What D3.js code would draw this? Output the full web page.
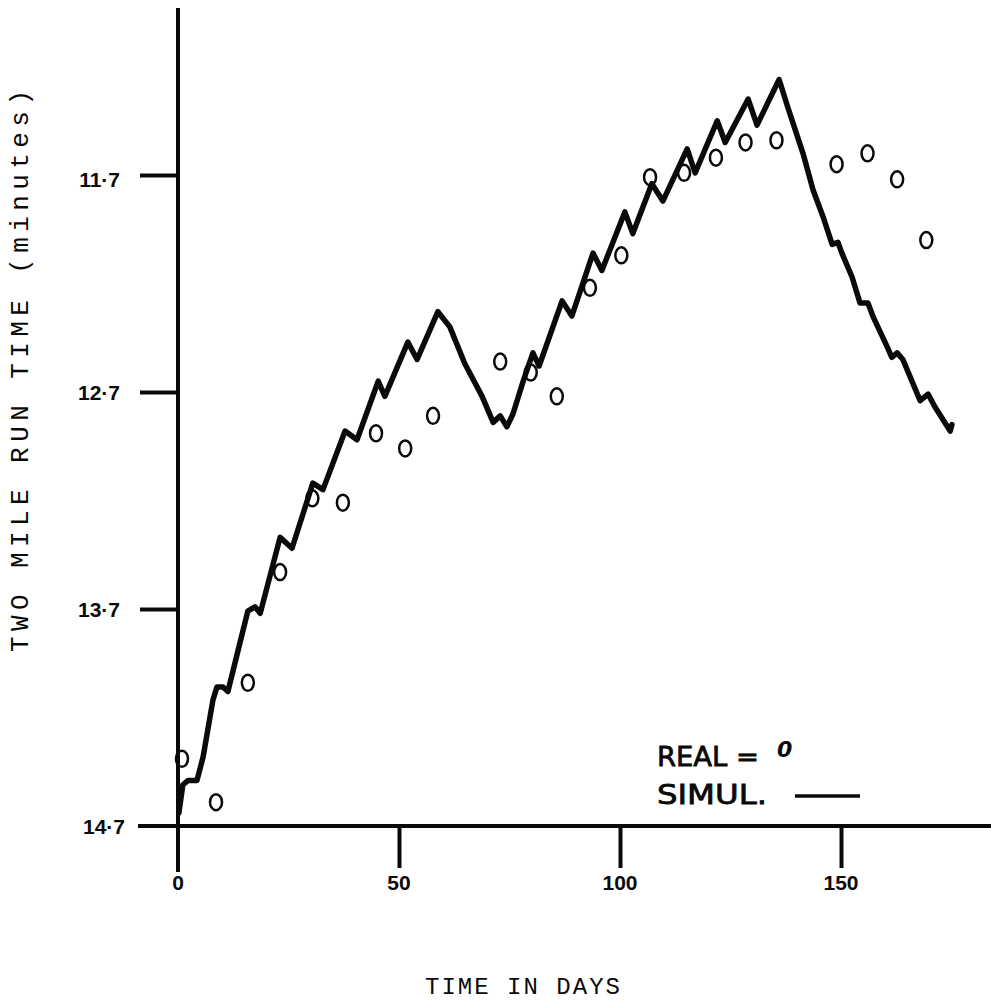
<!DOCTYPE html>
<html>
<head>
<meta charset="utf-8">
<script src="https://cdn.jsdelivr.net/npm/d3@7"></script>
<style>
  html, body { margin: 0; padding: 0; background: #fff; }
  svg { display: block; }
</style>
</head>
<body>
<svg id="chart" width="991" height="1006"></svg>
<script>
// ---- data ----
const realDays  = [0.9, 8.6, 15.8, 23.1, 30.4, 37.3, 44.8, 51.4, 57.7, 72.9, 79.8, 85.7, 93.2, 100.3, 106.8, 114.5, 121.7, 128.4, 135.4, 149.0, 156.0, 162.7, 169.3];
const realTimes = [14.39, 14.59, 14.04, 13.53, 13.19, 13.21, 12.89, 12.96, 12.81, 12.56, 12.61, 12.72, 12.22, 12.07, 11.71, 11.69, 11.62, 11.55, 11.54, 11.65, 11.60, 11.72, 12.00];

const simDays  = [0.2, 1.1, 2.3, 4.3, 5.7, 7.9, 8.8, 10.2, 11.3, 13.6, 15.8, 17.4, 18.6, 23.1, 25.8, 30.5, 32.8, 37.8, 40.5, 45.3, 46.8, 52.0, 54.1, 58.8,
                  61.5, 64.9, 68.8, 71.3, 72.9, 74.4,
                  75.8, 78.1, 80.3, 81.7, 86.9, 89.1, 93.9, 95.9, 101.1, 102.9, 107.2, 109.7, 115.2, 117.0, 122.0, 123.8, 129.0, 131.0, 136.0,
                  138.0, 141.4, 143.7, 145.9, 148.0, 149.3, 150.2, 152.5, 154.3, 156.1, 157.2, 160.4, 161.5, 162.7, 164.0, 167.9, 169.7, 171.3, 174.7, 175.1];
const simTimes = [14.64, 14.51, 14.49, 14.49, 14.38, 14.12, 14.06, 14.06, 14.08, 13.89, 13.71, 13.69, 13.72, 13.37, 13.42, 13.12, 13.15, 12.88, 12.92, 12.65, 12.72, 12.47, 12.55, 12.33,
                  12.40, 12.57, 12.72, 12.84, 12.81, 12.86,
                  12.80, 12.65, 12.52, 12.58, 12.28, 12.35, 12.06, 12.14, 11.87, 11.97, 11.74, 11.82, 11.58, 11.69, 11.45, 11.55, 11.35, 11.47, 11.26,
                  11.39, 11.60, 11.77, 11.89, 12.02, 12.01, 12.06, 12.17, 12.29, 12.29, 12.35, 12.49, 12.54, 12.52, 12.55, 12.74, 12.71, 12.77, 12.88, 12.85];

const xTicks = [0, 50, 100, 150];
const xTickLabels = ["0", "50", "100", "150"];
const yTicks = [11.7, 12.7, 13.7, 14.7];
const yTickLabels = ["11·7", "12·7", "13·7", "14·7"];

const yTitle = "TWO MILE RUN TIME (minutes)";
const xTitle = "TIME IN DAYS";
const legendReal = "REAL =";
const legendRealSym = "0";
const legendSim = "SIMUL.";

// ---- drawing ----
const svg = d3.select("#chart");
const x = d3.scaleLinear().domain([0, 150]).range([178, 841]);
const y = d3.scaleLinear().domain([14.7, 11.7]).range([826, 175]);

const ink = "#0a0a0a";

// axes lines
svg.append("line").attr("x1", 178).attr("x2", 178).attr("y1", 8).attr("y2", 872)
  .attr("stroke", ink).attr("stroke-width", 4);
svg.append("line").attr("x1", 138).attr("x2", 991).attr("y1", y(14.7)).attr("y2", y(14.7))
  .attr("stroke", ink).attr("stroke-width", 4);

// y ticks via d3 axis
const yAxis = d3.axisLeft(y).tickValues(yTicks.slice(0, 3)).tickSize(38).tickFormat("");
const gy = svg.append("g").attr("transform", "translate(178,0)").call(yAxis);
gy.select(".domain").remove();
gy.selectAll(".tick line").attr("stroke", ink).attr("stroke-width", 4);

// x ticks
const xAxis = d3.axisBottom(x).tickValues(xTicks.slice(1)).tickSize(42).tickFormat("");
const gx = svg.append("g").attr("transform", `translate(0,${y(14.7)})`).call(xAxis);
gx.select(".domain").remove();
gx.selectAll(".tick line").attr("stroke", ink).attr("stroke-width", 4);

// y tick labels
svg.selectAll(".ylab").data(yTicks).enter().append("text")
  .attr("class", "ylab")
  .attr("x", (d, i) => i === 3 ? 125 : 120)
  .attr("y", (d, i) => y(d) + (i === 0 ? 12 : 8))
  .attr("text-anchor", "end")
  .attr("font-family", "Liberation Sans")
  .attr("font-weight", "bold")
  .attr("font-size", 21)
  .attr("fill", ink)
  .text((d, i) => yTickLabels[i]);

// x tick labels
svg.selectAll(".xlab").data(xTicks).enter().append("text")
  .attr("class", "xlab")
  .attr("x", d => x(d))
  .attr("y", 890)
  .attr("text-anchor", "middle")
  .attr("font-family", "Liberation Sans")
  .attr("font-weight", "bold")
  .attr("font-size", 21)
  .attr("fill", ink)
  .text((d, i) => xTickLabels[i]);

// titles
svg.append("text")
  .attr("transform", "translate(28,652) rotate(-90)")
  .attr("font-family", "Liberation Mono")
  .attr("font-size", 26)
  .attr("textLength", 562)
  .attr("lengthAdjust", "spacing")
  .attr("fill", ink)
  .text(yTitle);

svg.append("text")
  .attr("x", 425).attr("y", 994)
  .attr("font-family", "Liberation Mono")
  .attr("font-size", 24)
  .attr("textLength", 195)
  .attr("lengthAdjust", "spacing")
  .attr("fill", ink)
  .text(xTitle);

// simulated line
const line = d3.line().x(d => x(d[0])).y(d => y(d[1]));
svg.append("path")
  .datum(simDays.map((d, i) => [d, simTimes[i]]))
  .attr("d", line)
  .attr("fill", "none")
  .attr("stroke", ink)
  .attr("stroke-width", 5.5)
  .attr("stroke-linejoin", "round")
  .attr("stroke-linecap", "round");

// real points
svg.selectAll(".pt").data(realDays).enter().append("ellipse")
  .attr("class", "pt")
  .attr("cx", d => x(d))
  .attr("cy", (d, i) => y(realTimes[i]))
  .attr("rx", 6).attr("ry", 8)
  .attr("fill", "none")
  .attr("stroke", ink)
  .attr("stroke-width", 2.5);

// legend
svg.append("text").attr("x", 657).attr("y", 766)
  .attr("font-family", "DejaVu Sans").attr("font-size", 27).attr("fill", ink)
  .attr("stroke", ink).attr("stroke-width", 0.8)
  .attr("textLength", 102).attr("lengthAdjust", "spacingAndGlyphs")
  .text(legendReal);
svg.append("text").attr("x", 777).attr("y", 757)
  .attr("font-family", "DejaVu Sans").attr("font-style", "italic").attr("font-weight", "bold")
  .attr("font-size", 22).attr("fill", ink)
  .text(legendRealSym);
svg.append("text").attr("x", 657).attr("y", 804)
  .attr("font-family", "DejaVu Sans").attr("font-size", 27).attr("fill", ink)
  .attr("stroke", ink).attr("stroke-width", 0.8)
  .attr("textLength", 110).attr("lengthAdjust", "spacingAndGlyphs")
  .text(legendSim);
svg.append("line").attr("x1", 795).attr("x2", 860).attr("y1", 796).attr("y2", 796)
  .attr("stroke", ink).attr("stroke-width", 3.5);
</script>
</body>
</html>
